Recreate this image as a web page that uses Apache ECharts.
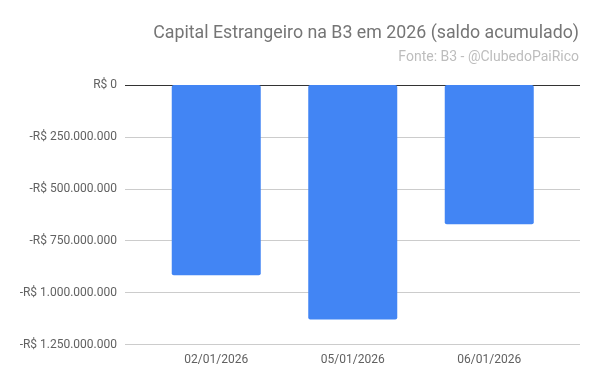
<!DOCTYPE html>
<html><head><meta charset="utf-8">
<script src="https://cdn.jsdelivr.net/npm/echarts@6/dist/echarts.min.js"></script>
<style>html,body{margin:0;padding:0;background:#fff}#c{width:600px;height:385px}</style>
</head><body><div id="c"></div>
<script>
const categories = ['02/01/2026', '05/01/2026', '06/01/2026'];
const values = [-916000000, -1130000000, -671000000];
const yMin = -1250000000, yMax = 0, yStep = 250000000;
const titleText = 'Capital Estrangeiro na B3 em 2026 (saldo acumulado)';
const subText = 'Fonte: B3 - @ClubedoPaiRico';

function fmt(v) {
  const a = Math.abs(v);
  const s = String(a).replace(/\B(?=(\d{3})+(?!\d))/g, '.');
  return (v < 0 ? '-' : '') + 'R$ ' + s;
}
const font = 'Roboto';
const chart = echarts.init(document.getElementById('c'), null, {renderer: 'canvas'});
chart.setOption({
  animation: false,
  backgroundColor: '#fff',
  title: [
    {text: titleText, right: 16, top: 20, textStyle: {fontFamily: font, fontSize: 17.8, fontWeight: 'normal', color: '#757575'}},
    {text: subText, right: 16, top: 45, textStyle: {fontFamily: font, fontSize: 14, fontWeight: 'normal', color: '#bdbdbd'}}
  ],
  grid: [
    {left: 125, right: 20, top: 85, bottom: 40.5, containLabel: false},
    {left: 148, right: 42.5, top: 85, bottom: 40.5, containLabel: false}
  ],
  xAxis: [
    {gridIndex: 0, type: 'value', show: false},
    {gridIndex: 1, type: 'category', data: categories,
     axisLine: {show: false}, axisTick: {show: false},
     axisLabel: {margin: 9, fontFamily: font, fontSize: 12, color: '#616161'}}
  ],
  yAxis: [
    {gridIndex: 0, type: 'value', min: yMin, max: yMax, interval: yStep,
     axisLine: {show: false}, axisTick: {show: false},
     axisLabel: {margin: 8, fontFamily: font, fontSize: 12, color: '#616161', formatter: fmt},
     splitLine: {lineStyle: {color: ['#cccccc','#cccccc','#cccccc','#cccccc','#cccccc','#333333'], width: 1}}},
    {gridIndex: 1, type: 'value', min: yMin, max: yMax, interval: yStep, show: false, splitLine: {show: false}}
  ],
  series: [{
    type: 'bar', xAxisIndex: 1, yAxisIndex: 1, data: values, barWidth: 89,
    itemStyle: {color: '#4285f4', borderRadius: [2, 2, 2, 2]}
  }]
});
</script></body></html>
